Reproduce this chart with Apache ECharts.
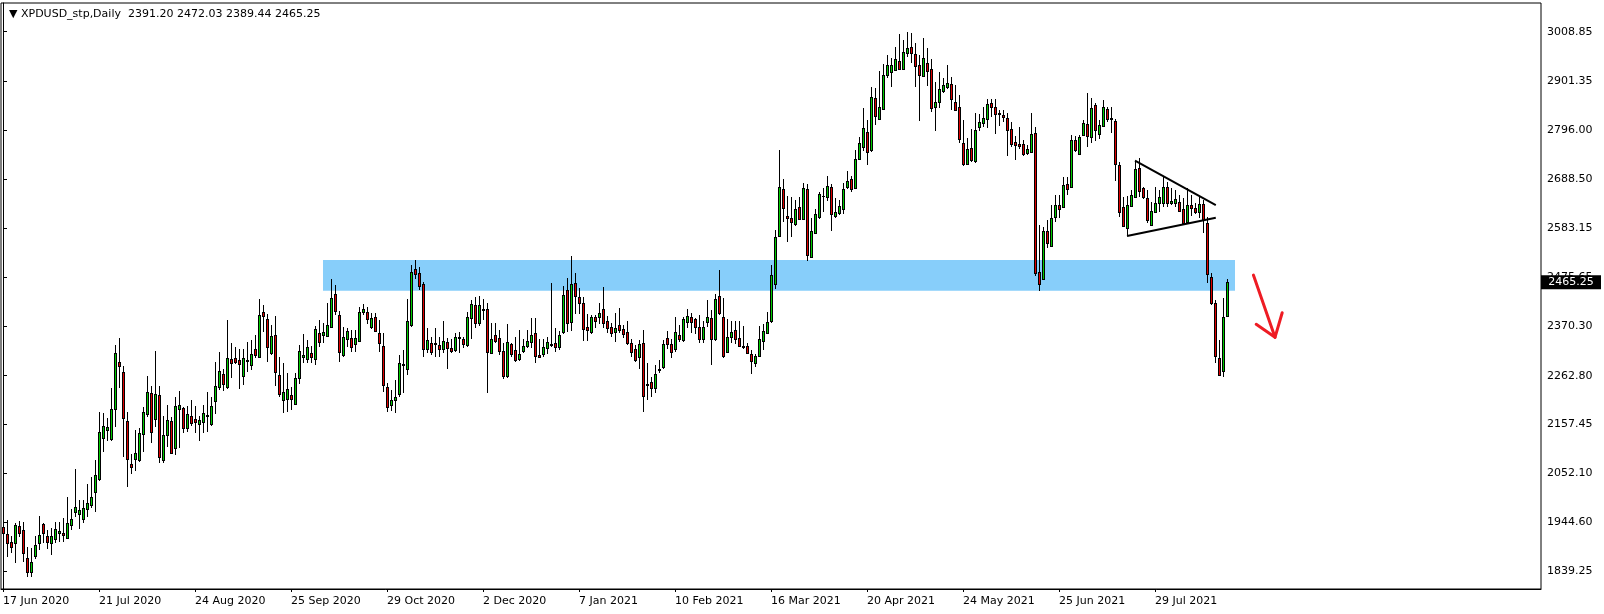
<!DOCTYPE html>
<html>
<head>
<meta charset="utf-8">
<script src="https://cdn.jsdelivr.net/npm/echarts@6/dist/echarts.min.js"></script>
<style>
  html, body { margin: 0; padding: 0; background: #fff; }
  #chart { width: 1604px; height: 614px; }
</style>
</head>
<body>
<div id="chart"></div>
<script>
// ---------------- DATA ----------------
const symbolName = 'XPDUSD_stp,Daily';

const tickLabels = ['17 Jun 2020','21 Jul 2020','24 Aug 2020','25 Sep 2020','29 Oct 2020','2 Dec 2020',
  '7 Jan 2021','10 Feb 2021','16 Mar 2021','20 Apr 2021','24 May 2021','25 Jun 2021','29 Jul 2021'];
const barsPerTick = 24;

const priceTicks = [3008.85, 2901.35, 2796.00, 2688.50, 2583.15, 2475.65, 2370.30, 2262.80,
  2157.45, 2052.10, 1944.60, 1839.25];

const openPrices = [
1933.8,1918.6,1901.3,1899.1,1936.0,1928.0,1866.6,1837.7,1872.3,1900.6,
1940.3,1915.0,1900.6,1909.2,1922.2,1921.5,1911.4,1938.2,1967.8,1963.5,
1952.6,1974.3,1983.0,2011.2,2037.9,2128.3,2145.7,2126.1,2191.2,2291.7,
2270.0,2163.7,2071.2,2082.8,2079.9,2135.6,2179.7,2224.5,2168.1,2220.2,
2079.2,2133.4,2163.8,2106.7,2191.2,2192.0,2148.6,2174.6,2168.1,2157.3,
2161.6,2176.1,2158.7,2207.2,2237.5,2266.4,2239.0,2299.0,2300.4,2296.8,
2262.8,2296.8,2285.2,2320.0,2302.6,2400.2,2385.0,2312.6,2350.2,2263.5,
2210.7,2211.4,2220.1,2202.0,2258.4,2302.5,2298.2,2311.2,2299.6,2354.6,
2351.7,2349.5,2369.0,2439.9,2393.6,2308.3,2343.0,2343.7,2332.2,2338.7,
2401.6,2400.8,2369.0,2389.3,2354.6,2327.1,2238.2,2199.8,2210.7,2222.3,
2285.2,2276.5,2371.9,2494.1,2484.7,2461.6,2319.9,2332.9,2333.6,2328.5,
2319.9,2335.0,2322.7,2318.4,2345.2,2341.5,2328.5,2387.1,2415.3,2376.3,
2407.3,2406.6,2312.6,2351.0,2343.7,2315.5,2262.0,2330.7,2318.4,2298.2,
2315.5,2326.4,2336.5,2354.6,2306.9,2309.0,2323.5,2329.3,2332.9,2325.7,
2358.2,2447.9,2378.5,2463.8,2433.4,2419.7,2367.6,2356.8,2390.0,2389.3,
2406.7,2381.3,2367.6,2356.8,2372.0,2363.3,2357.5,2332.9,2320.6,2304.0,
2332.9,2244.7,2248.3,2235.3,2275.1,2282.3,2343.7,2330.7,2319.9,2350.2,
2340.1,2378.4,2390.7,2384.9,2367.6,2343.0,2379.9,2387.1,2341.6,2435.5,
2389.3,2313.4,2347.3,2361.1,2343.7,2326.4,2326.4,2309.7,2289.5,2306.2,
2338.7,2356.0,2382.0,2461.6,2565.7,2666.9,2609.8,2604.0,2591.0,2627.9,
2603.3,2666.9,2520.9,2571.5,2607.6,2653.2,2651.0,2671.3,2609.8,2614.9,
2623.5,2672.7,2688.6,2669.1,2732.0,2759.5,2790.5,2752.2,2864.3,2818.7,
2841.9,2914.2,2922.1,2925.8,2944.5,2928.6,2961.9,2974.9,2959.7,2935.9,
2913.4,2940.2,2927.2,2846.2,2855.6,2880.9,2889.6,2895.4,2856.3,2844.8,
2766.7,2722.6,2756.6,2729.1,2802.8,2811.5,2818.7,2854.2,2844.8,2832.5,
2827.4,2821.6,2797.8,2769.6,2764.5,2764.6,2745.0,2748.7,2789.9,2488.4,
2472.5,2576.6,2544.8,2606.2,2632.3,2629.4,2678.5,2671.3,2774.0,2744.3,
2784.8,2808.7,2779.7,2849.9,2787.7,2805.0,2840.5,2821.0,2815.2,2719.7,
2628.6,2583.8,2630.7,2649.5,2712.4,2669.1,2647.4,2589.5,2617.0,2636.5,
2638.0,2672.7,2636.5,2638.0,2638.7,2623.5,2596.0,2632.2,2625.7,2617.0,
2634.4,2593.2,2477.5,2419.6,2300.3,2273.6,2391.20];

const highPrices = [
1938.2,1949.7,1915.0,1942.5,1947.6,1945.4,1890.4,1888.3,1915.0,1958.4,
1942.5,1928.0,1931.6,1946.1,1946.1,1953.3,2000.3,1973.6,2060.3,1993.1,
1993.1,2027.8,2043.7,2079.9,2184.0,2182.5,2171.7,2235.3,2329.3,2343.8,
2283.7,2184.7,2092.9,2144.9,2148.6,2195.6,2262.1,2240.4,2316.3,2240.4,
2175.3,2199.2,2173.9,2217.3,2229.6,2195.6,2197.0,2210.0,2197.0,2175.3,
2199.2,2227.4,2217.3,2293.2,2314.2,2276.6,2383.6,2333.0,2324.3,2320.7,
2320.0,2335.9,2340.2,2351.0,2428.4,2415.4,2395.9,2372.6,2392.2,2303.9,
2289.5,2267.8,2238.9,2269.2,2329.3,2353.1,2340.1,2327.1,2370.5,2383.5,
2376.3,2419.6,2471.7,2459.4,2403.0,2367.6,2365.4,2361.8,2361.8,2412.4,
2418.2,2412.4,2397.9,2397.9,2383.5,2354.6,2246.1,2231.7,2253.3,2307.6,
2318.4,2428.3,2502.8,2513.6,2497.7,2466.6,2365.4,2347.3,2365.4,2345.9,
2381.3,2343.7,2342.3,2354.6,2358.2,2347.3,2400.1,2426.9,2434.1,2435.5,
2428.3,2419.6,2376.3,2377.7,2361.8,2332.9,2374.8,2332.9,2347.3,2361.8,
2341.5,2361.8,2387.1,2387.1,2341.6,2341.6,2345.9,2463.1,2365.4,2359.6,
2457.3,2473.9,2522.3,2486.2,2452.2,2434.1,2395.8,2394.4,2394.4,2421.1,
2454.4,2392.2,2376.3,2399.4,2408.8,2372.7,2381.3,2341.6,2329.3,2340.1,
2361.8,2289.5,2260.6,2285.9,2296.8,2340.1,2359.6,2342.3,2389.3,2372.6,
2390.7,2406.6,2399.4,2388.6,2393.6,2381.3,2426.9,2405.2,2439.2,2491.9,
2430.5,2384.9,2381.3,2381.3,2381.3,2370.5,2332.9,2318.4,2309.0,2370.5,
2374.1,2400.8,2502.8,2578.7,2752.2,2688.6,2652.5,2649.6,2643.8,2651.0,
2679.9,2677.8,2604.0,2623.5,2661.9,2670.5,2695.8,2677.8,2647.4,2643.8,
2679.9,2706.7,2695.8,2752.2,2781.2,2842.6,2817.3,2889.6,2886.0,2923.6,
2938.8,2958.3,2951.1,2974.9,3003.8,2990.8,3008.9,3005.3,2983.6,2958.3,
2994.4,2972.7,2948.9,2900.4,2922.1,2907.7,2936.6,2911.3,2893.2,2871.5,
2817.3,2779.0,2798.5,2831.8,2830.3,2844.8,2862.8,2862.8,2862.8,2839.0,
2839.0,2833.2,2813.0,2782.6,2802.8,2774.0,2763.1,2833.2,2802.9,2589.6,
2586.0,2600.4,2633.0,2654.7,2654.7,2694.4,2694.4,2784.8,2782.6,2784.8,
2817.3,2875.2,2864.3,2853.5,2817.3,2860.7,2846.3,2846.3,2818.8,2727.0,
2651.0,2652.5,2665.5,2729.1,2734.1,2672.7,2665.5,2640.1,2672.7,2665.5,
2692.9,2683.5,2669.1,2665.5,2654.6,2647.4,2669.1,2654.6,2636.5,2651.0,
2643.8,2607.6,2484.7,2426.9,2340.1,2430.5,2472.03];

const lowPrices = [
1894.8,1870.2,1877.4,1857.2,1913.6,1859.4,1826.8,1826.8,1864.4,1884.7,
1899.1,1886.1,1873.8,1900.6,1902.7,1902.7,1908.5,1928.0,1957.0,1930.2,
1943.9,1957.0,1975.0,1967.1,2034.3,2097.9,2121.1,2121.1,2152.2,2235.3,
2087.1,2022.0,2048.8,2056.7,2076.3,2098.0,2173.9,2116.1,2152.2,2072.7,
2074.1,2108.8,2092.9,2090.7,2106.7,2137.7,2141.4,2153.6,2139.2,2121.8,
2139.2,2141.4,2154.4,2178.9,2231.7,2229.6,2233.9,2258.5,2287.4,2233.2,
2242.6,2271.5,2274.4,2300.4,2300.4,2358.3,2293.2,2307.6,2241.0,2217.2,
2181.0,2184.7,2188.3,2199.1,2244.7,2289.5,2291.0,2289.5,2285.9,2325.6,
2332.9,2347.3,2365.4,2394.3,2293.1,2303.9,2324.2,2314.8,2314.8,2336.5,
2394.3,2374.1,2363.2,2358.2,2314.8,2228.0,2184.7,2186.1,2182.5,2217.2,
2224.4,2264.2,2367.6,2471.7,2448.5,2303.9,2311.2,2307.6,2302.5,2303.9,
2311.2,2276.5,2311.2,2314.8,2312.6,2322.0,2325.6,2342.3,2366.8,2371.2,
2383.5,2225.9,2311.2,2334.3,2307.6,2254.8,2256.9,2303.9,2293.1,2294.5,
2311.2,2323.5,2323.5,2291.0,2301.8,2304.0,2309.0,2325.7,2314.8,2318.4,
2352.4,2356.8,2359.0,2395.8,2395.8,2338.7,2338.7,2352.4,2366.9,2374.9,
2366.9,2356.0,2345.9,2336.5,2354.6,2343.8,2329.3,2304.0,2293.2,2277.2,
2184.7,2210.0,2217.2,2224.4,2267.8,2276.5,2319.9,2301.8,2313.4,2335.1,
2336.5,2366.9,2354.6,2353.1,2332.9,2332.9,2369.0,2285.2,2338.7,2393.6,
2300.4,2311.2,2332.9,2330.7,2325.6,2321.3,2309.7,2266.4,2280.8,2304.0,
2318.4,2353.1,2376.3,2450.7,2564.3,2596.8,2553.4,2564.2,2588.1,2601.8,
2601.8,2512.2,2519.4,2570.0,2603.3,2618.5,2641.6,2577.3,2604.0,2611.2,
2612.7,2666.9,2661.9,2667.6,2730.5,2750.1,2719.7,2748.6,2806.5,2817.3,
2839.0,2907.7,2889.6,2924.3,2925.8,2927.2,2954.7,2941.6,2889.6,2815.8,
2911.3,2891.0,2835.4,2794.2,2844.0,2875.1,2883.8,2839.0,2836.8,2766.7,
2717.5,2721.9,2725.5,2724.8,2794.2,2801.4,2800.7,2824.5,2786.9,2805.0,
2813.7,2739.2,2758.0,2730.5,2755.1,2739.3,2741.4,2746.5,2479.0,2446.4,
2470.3,2539.0,2542.6,2596.8,2604.1,2625.8,2654.7,2669.1,2747.2,2742.9,
2782.6,2759.5,2766.7,2772.5,2775.4,2801.4,2813.7,2789.9,2685.0,2606.2,
2586.0,2565.7,2629.3,2647.4,2651.0,2645.2,2593.2,2587.4,2614.8,2618.4,
2629.3,2629.3,2632.9,2629.3,2618.4,2593.2,2594.6,2609.1,2613.4,2604.0,
2571.5,2463.0,2416.0,2289.5,2262.0,2259.1,2389.44];

const closePrices = [
1922.2,1900.6,1890.4,1938.2,1920.8,1877.4,1837.7,1857.9,1894.8,1916.5,
1920.8,1902.7,1915.0,1929.5,1925.9,1917.9,1942.5,1951.2,1977.2,1971.4,
1975.0,1985.9,1998.9,2046.6,2139.9,2152.9,2150.7,2189.8,2311.2,2283.0,
2170.2,2082.8,2065.4,2094.3,2137.7,2184.7,2226.7,2141.4,2223.1,2087.1,
2133.4,2165.9,2094.4,2197.0,2198.5,2148.6,2178.9,2160.9,2161.6,2165.9,
2181.1,2176.8,2197.0,2239.7,2272.9,2244.0,2300.4,2289.6,2291.7,2287.4,
2300.4,2294.6,2309.1,2308.4,2393.7,2392.9,2325.7,2348.1,2271.4,2223.7,
2226.6,2233.1,2212.9,2256.9,2315.5,2307.6,2324.9,2303.9,2363.2,2335.8,
2356.7,2371.9,2430.5,2403.7,2314.8,2345.9,2359.6,2325.6,2343.7,2400.8,
2407.3,2384.9,2387.1,2360.3,2334.3,2243.2,2195.5,2210.0,2216.5,2289.5,
2288.0,2381.3,2486.9,2482.5,2457.9,2319.9,2340.1,2314.8,2330.7,2321.3,
2337.2,2323.5,2317.0,2345.9,2346.6,2330.7,2389.3,2417.5,2376.3,2415.3,
2405.9,2313.3,2341.5,2337.2,2315.5,2262.7,2335.8,2309.0,2296.7,2309.0,
2326.4,2337.2,2350.3,2306.2,2303.3,2324.2,2335.1,2330.7,2325.7,2350.3,
2437.0,2376.3,2461.6,2434.9,2419.7,2364.7,2362.6,2389.3,2382.1,2398.0,
2376.3,2366.9,2354.6,2365.4,2361.8,2353.2,2332.9,2314.8,2296.8,2330.7,
2219.4,2243.3,2235.3,2265.6,2277.2,2330.7,2330.7,2314.8,2356.8,2343.0,
2384.9,2392.2,2379.9,2367.6,2343.0,2369.0,2390.7,2341.6,2428.3,2399.4,
2306.2,2345.9,2357.5,2343.0,2327.8,2324.9,2312.6,2295.3,2305.4,2341.6,
2358.9,2379.9,2480.4,2562.8,2671.2,2625.7,2604.0,2596.8,2623.5,2603.3,
2669.1,2524.5,2576.5,2612.7,2656.8,2652.5,2674.1,2612.7,2618.5,2630.8,
2666.9,2685.0,2666.9,2732.0,2766.7,2799.2,2748.6,2866.5,2826.7,2844.8,
2914.2,2935.9,2936.6,2948.9,2927.2,2964.1,2972.7,2963.3,2935.1,2914.2,
2951.0,2924.3,2844.0,2856.3,2883.8,2892.5,2898.3,2863.6,2839.0,2776.8,
2721.1,2754.4,2729.8,2795.6,2812.9,2820.9,2852.0,2845.5,2831.0,2831.0,
2824.5,2795.6,2766.0,2763.8,2761.6,2742.9,2753.7,2786.2,2486.2,2460.9,
2576.6,2549.8,2604.1,2632.3,2624.3,2676.3,2667.7,2774.0,2752.3,2780.5,
2810.1,2783.4,2842.6,2795.7,2806.5,2844.8,2818.8,2818.8,2721.2,2618.5,
2588.2,2632.3,2653.9,2710.3,2664.0,2649.5,2599.7,2619.9,2636.5,2649.5,
2672.7,2636.5,2641.6,2645.2,2620.6,2594.6,2632.2,2627.1,2617.0,2634.4,
2600.4,2483.3,2419.6,2305.4,2264.2,2390.7,2465.25];

// support zone (bar index range, price range)
const zoneBars = [80, 308];
const zonePrices = [2447.1, 2513.7];

// symmetrical triangle trendlines [barIndex, price]
const triangleUpper = [[283, 2729.1], [303.2, 2633.0]];
const triangleLower = [[281, 2565.7], [303.2, 2605.4]];

// hand-drawn red arrow [barIndex, price]
const arrowShaft = [[312.6, 2481.1], [318.0, 2346.0]];
const arrowHead  = [[313.3, 2374.2], [318.0, 2346.0], [319.8, 2399.4]];

// ---------------- CHART ----------------
const BULL = '#00CC00', BEAR = '#DD0000', EDGE = '#000000';
const slotCount = 385;               // bars + empty right-hand shift area
const slots = [];
for (let i = 0; i < slotCount; i++) slots.push(String(i));

const candleRows = openPrices.map((o, i) => [i, o, closePrices[i], lowPrices[i], highPrices[i]]);
const last = openPrices.length - 1;
const fmt = v => v.toFixed(2);
const headerText = '▼ ' + symbolName + '  ' + fmt(openPrices[last]) + ' ' + fmt(highPrices[last]) + ' ' +
  fmt(lowPrices[last]) + ' ' + fmt(closePrices[last]);

const FONT = 'DejaVu Sans';
const isTick = idx => idx % barsPerTick === 0 && idx / barsPerTick < tickLabels.length;

function renderCandle(params, api) {
  const i = api.value(0);
  const o = api.value(1), c = api.value(2), l = api.value(3), h = api.value(4);
  const pO = api.coord([i, o]), pC = api.coord([i, c]);
  const yL = Math.round(api.coord([i, l])[1]);
  const yH = Math.round(api.coord([i, h])[1]);
  const x = Math.floor(pO[0]);
  const top = Math.round(Math.min(pO[1], pC[1]));
  const bot = Math.round(Math.max(pO[1], pC[1]));
  const children = [
    { type: 'rect', shape: { x: x, y: yH, width: 1, height: Math.max(yL - yH, 1) },
      style: { fill: EDGE }, silent: true },
    { type: 'rect', shape: { x: x - 1, y: top, width: 3, height: Math.max(bot - top + 1, 1) },
      style: { fill: EDGE }, silent: true }
  ];
  if (bot - top >= 2) {
    children.push({ type: 'rect', shape: { x: x, y: top + 1, width: 1, height: bot - top - 1 },
      style: { fill: c >= o ? BULL : BEAR }, silent: true });
  }
  return { type: 'group', children: children };
}

const chart = echarts.init(document.getElementById('chart'), null, { renderer: 'canvas' });
chart.setOption({
  animation: false,
  backgroundColor: '#ffffff',
  title: {
    text: headerText,
    left: 4, top: 4,
    textStyle: { fontFamily: FONT, fontSize: 11, fontWeight: 'normal', color: '#000' }
  },
  grid: {
    left: 1, right: 63, top: 3, bottom: 25,
    show: true, borderColor: '#000', borderWidth: 1, backgroundColor: 'transparent'
  },
  xAxis: [{
    type: 'category',
    data: slots,
    boundaryGap: true,
    axisLine: { show: true, lineStyle: { color: '#000', width: 1 } },
    axisTick: { show: true, alignWithLabel: true, interval: isTick, length: 3, lineStyle: { color: '#000' } },
    axisLabel: {
      show: true, interval: isTick, align: 'left', margin: 7,
      formatter: (v, idx) => tickLabels[idx / barsPerTick] || '',
      fontFamily: FONT, fontSize: 11, color: '#000'
    },
    splitLine: { show: false }
  }, {
    type: 'value', min: -0.5, max: slotCount - 0.5, show: false
  }],
  yAxis: {
    type: 'value',
    position: 'right',
    min: 1800.2, max: 3071.1,
    axisLine: { show: true, lineStyle: { color: '#000', width: 1 } },
    axisTick: { show: true, customValues: priceTicks, length: 4, lineStyle: { color: '#000' } },
    axisLabel: {
      show: true, customValues: priceTicks, margin: 6,
      formatter: v => fmt(v),
      fontFamily: FONT, fontSize: 11, color: '#000'
    },
    splitLine: { show: false }
  },
  series: [
    {
      name: 'zone', type: 'line', xAxisIndex: 1, z: 1, silent: true, clip: false,
      data: [[zoneBars[0], zonePrices[0]], [zoneBars[1], zonePrices[1]]],
      showSymbol: false, symbol: 'none', lineStyle: { color: 'rgba(0,0,0,0)', width: 0 },
      markArea: {
        silent: true,
        itemStyle: { color: '#87CEFA', opacity: 1 },
        data: [[{ xAxis: zoneBars[0], yAxis: zonePrices[1] }, { xAxis: zoneBars[1], yAxis: zonePrices[0] }]]
      }
    },
    {
      name: 'XPDUSD', type: 'custom', z: 3, silent: true,
      renderItem: renderCandle,
      encode: { x: 0, y: [1, 2, 3, 4] },
      data: candleRows
    },
    {
      name: 'triUpper', type: 'line', xAxisIndex: 1, z: 4, silent: true,
      data: triangleUpper, symbol: 'none', lineStyle: { color: '#000', width: 2 }
    },
    {
      name: 'triLower', type: 'line', xAxisIndex: 1, z: 4, silent: true,
      data: triangleLower, symbol: 'none', lineStyle: { color: '#000', width: 2 }
    },
    {
      name: 'arrowShaft', type: 'line', xAxisIndex: 1, z: 4, silent: true,
      data: arrowShaft, symbol: 'none', lineStyle: { color: '#EE1C24', width: 3, cap: 'round' }
    },
    {
      name: 'arrowHead', type: 'line', xAxisIndex: 1, z: 4, silent: true,
      data: arrowHead, symbol: 'none', lineStyle: { color: '#EE1C24', width: 3, cap: 'round', join: 'round' }
    },
    {
      name: 'lastPrice', type: 'line', xAxisIndex: 1, z: 10, silent: true, clip: false,
      data: [[slotCount - 0.5, closePrices[last]]],
      symbol: 'none', showSymbol: false, lineStyle: { color: 'rgba(0,0,0,0)', width: 0 },
      markPoint: {
        silent: true,
        symbol: 'rect',
        symbolSize: [60, 14],
        symbolOffset: [30, 0],
        itemStyle: { color: '#000' },
        label: {
          show: true, position: 'inside',
          formatter: () => fmt(closePrices[last]),
          color: '#fff', fontFamily: FONT, fontSize: 11
        },
        data: [{ coord: [slotCount - 0.5, closePrices[last]] }]
      }
    }
  ]
});
</script>
</body>
</html>
